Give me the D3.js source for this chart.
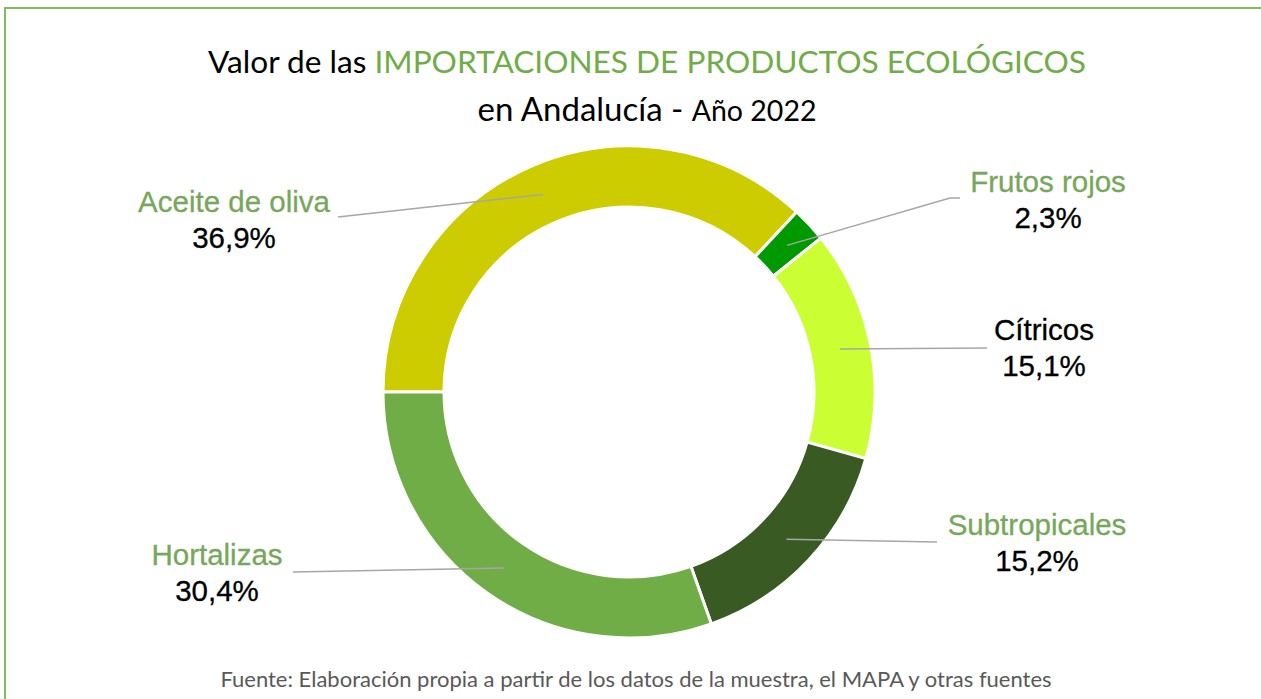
<!DOCTYPE html>
<html>
<head>
<meta charset="utf-8">
<script src="https://cdn.jsdelivr.net/npm/d3@7"></script>
<style>
  body { margin: 0; background: #fff; }
  svg { display: block; }
</style>
</head>
<body>
<div id="chart"></div>
<script>
const categories = ["Aceite de oliva", "Frutos rojos", "Cítricos", "Subtropicales", "Hortalizas"]
const shares = [36.9, 2.3, 15.1, 15.2, 30.4]
const colors = ["#cccc00", "#009900", "#ccff33", "#3a5a24", "#70ad47"]
const nameColors = ["#77a75b", "#77a75b", "#000000", "#77a75b", "#77a75b"]

// where each label sits (name baseline centre) and where its leader line ends
const labelPos = [
    { x: 234, y: 212, lx: [338], ly: 217 },
    { x: 1048, y: 192, lx: [950, 960], ly: 198 },
    { x: 1044, y: 340, lx: [987], ly: 348 },
    { x: 1037, y: 535, lx: [937], ly: 542 },
    { x: 217, y: 565, lx: [293], ly: 572 }
]

const width = 1261
const height = 699
const cx = 629
const cy = 392
const outerR = 246
const innerR = 185

const fmt = d3.formatLocale({ decimal: ",", thousands: ".", grouping: [3], currency: ["", "€"] }).format(".1f")

const data = categories.map((c, i) => ({ name: c, value: shares[i], color: colors[i], nameColor: nameColors[i], pos: labelPos[i] }))

const svg = d3.select("#chart").append("svg")
    .attr("width", width)
    .attr("height", height)

// frame
svg.append("rect")
    .attr("x", 5)
    .attr("y", 8)
    .attr("width", width + 20)
    .attr("height", height + 20)
    .attr("fill", "none")
    .attr("stroke", "#7fbf5a")
    .attr("stroke-width", 2)

// title
const title = svg.append("text")
    .attr("x", 647)
    .attr("y", 73)
    .attr("text-anchor", "middle")
    .style("font-family", "Lato, 'Open Sans', sans-serif")
    .style("font-size", "31.6px")
title.append("tspan").attr("fill", "#000").text("Valor de las ")
title.append("tspan").attr("fill", "#70ad47").text("IMPORTACIONES DE PRODUCTOS ECOLÓGICOS")

const sub = svg.append("text")
    .attr("x", 647)
    .attr("y", 121)
    .attr("text-anchor", "middle")
    .attr("fill", "#000")
    .style("font-family", "Lato, 'Open Sans', sans-serif")
sub.append("tspan").style("font-size", "33px").text("en Andalucía - ")
sub.append("tspan").style("font-size", "28.5px").text("Año 2022")

const pie = d3.pie()
    .sort(null)
    .value(d => d.value)
    .startAngle(-Math.PI / 2)
    .endAngle(Math.PI * 1.5)

const arc = d3.arc().innerRadius(innerR).outerRadius(outerR)
const midArc = d3.arc().innerRadius((innerR + outerR) / 2).outerRadius((innerR + outerR) / 2)

const g = svg.append("g").attr("transform", `translate(${cx},${cy})`)
const arcs = pie(data)

g.selectAll("path.slice")
    .data(arcs)
    .enter()
    .append("path")
    .attr("class", "slice")
    .attr("d", arc)
    .attr("fill", d => d.data.color)
    .attr("stroke", "#fff")
    .attr("stroke-width", 3)

// leader lines from the middle of the ring to the label
g.selectAll("polyline")
    .data(arcs)
    .enter()
    .append("polyline")
    .attr("points", d => {
        const [x0, y0] = midArc.centroid(d)
        const pts = [[x0, y0]]
        d.data.pos.lx.forEach(x => pts.push([x - cx, d.data.pos.ly - cy]))
        return pts.map(p => p.join(",")).join(" ")
    })
    .attr("fill", "none")
    .attr("stroke", "#a6a6a6")
    .attr("stroke-width", 1.5)

const labels = svg.selectAll("g.label")
    .data(data)
    .enter()
    .append("g")
    .attr("class", "label")
    .style("font-family", "'Liberation Sans', Arial, sans-serif")
    .style("font-size", "29.5px")

labels.append("text")
    .attr("x", d => d.pos.x)
    .attr("y", d => d.pos.y)
    .attr("text-anchor", "middle")
    .attr("fill", d => d.nameColor)
    .attr("stroke", d => d.nameColor)
    .attr("stroke-width", 0.3)
    .text(d => d.name)

labels.append("text")
    .attr("x", d => d.pos.x)
    .attr("y", d => d.pos.y + 36)
    .attr("text-anchor", "middle")
    .attr("fill", "#000")
    .attr("stroke", "#000")
    .attr("stroke-width", 0.3)
    .text(d => fmt(d.value) + "%")

svg.append("text")
    .attr("x", 636)
    .attr("y", 687)
    .attr("text-anchor", "middle")
    .attr("fill", "#595959")
    .style("font-family", "Lato, 'Open Sans', sans-serif")
    .style("font-size", "22px")
    .text("Fuente: Elaboración propia a partir de los datos de la muestra, el MAPA y otras fuentes")
</script>
</body>
</html>
